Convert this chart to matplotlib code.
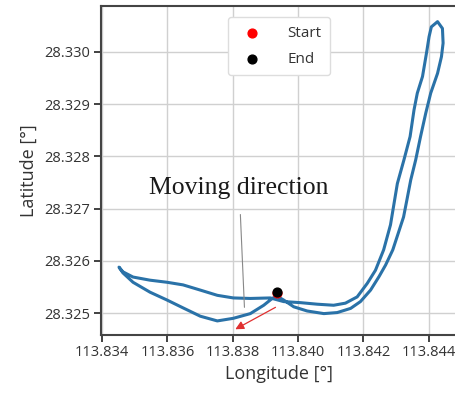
import matplotlib
matplotlib.use("Agg")
import matplotlib.pyplot as plt

lon = [113.83937, 113.83921, 113.83895, 113.83854, 113.83802, 113.83753, 113.83701,
       113.83648, 113.83599, 113.83547, 113.83495, 113.83464, 113.83452,
       113.83464, 113.83495, 113.83547, 113.83599, 113.83648, 113.83701, 113.83753,
       113.83802, 113.83854, 113.83915, 113.83956, 113.84007, 113.84059, 113.84109,
       113.84145, 113.84181, 113.84212, 113.84237, 113.84262, 113.84283, 113.84304,
       113.84324, 113.84343, 113.84355, 113.84365, 113.84381, 113.84394, 113.84401,
       113.84408, 113.84427, 113.84442, 113.84444, 113.84439, 113.84427, 113.84406,
       113.84391, 113.84375, 113.84360, 113.84345, 113.84333, 113.84323, 113.84290,
       113.84268, 113.84248, 113.84222, 113.84191, 113.84161, 113.84120, 113.84079,
       113.84028, 113.83987, 113.83956, 113.83937]
lat = [28.32533, 28.32528, 28.32515, 28.32499, 28.32490, 28.32485, 28.32494,
       28.32510, 28.32525, 28.32540, 28.32559, 28.32577, 28.32588,
       28.32579, 28.32569, 28.32563, 28.32559, 28.32554, 28.32544, 28.32534,
       28.32529, 28.32528, 28.32529, 28.32522, 28.32520, 28.32517, 28.32515,
       28.32519, 28.32531, 28.32557, 28.32582, 28.32621, 28.32669, 28.32748,
       28.32793, 28.32838, 28.32889, 28.32921, 28.32953, 28.33001, 28.33029,
       28.33048, 28.33058, 28.33045, 28.33017, 28.32991, 28.32959, 28.32921,
       28.32883, 28.32838, 28.32793, 28.32755, 28.32716, 28.32684, 28.32621,
       28.32592, 28.32570, 28.32544, 28.32522, 28.32509, 28.32501, 28.32499,
       28.32504, 28.32512, 28.32525, 28.32532]
start_pt = (113.83937, 28.32538)
end_pt = (113.83937, 28.32540)
xticks = [113.834, 113.836, 113.838, 113.840, 113.842, 113.844]
yticks = [28.325, 28.326, 28.327, 28.328, 28.329, 28.330]

plt.rcParams['font.family'] = ['Open Sans', 'DejaVu Sans']
fig = plt.figure(figsize=(4.55, 3.94), dpi=100)
ax = fig.add_axes([0.222, 0.1497, 0.782, 0.8351])

ax.plot(lon, lat, color='#2a72a8', lw=2.2, zorder=3, solid_joinstyle='round')
ax.scatter([start_pt[0]], [start_pt[1]], color='red', s=40, zorder=4, label='Start')
ax.scatter([end_pt[0]], [end_pt[1]], color='black', s=40, zorder=5, label='End')

ax.set_xlim(113.83397, 113.84486)
ax.set_ylim(28.32458, 28.33088)
ax.set_xticks(xticks)
ax.set_xticklabels([f"{v:.3f}" for v in xticks])
ax.set_yticks(yticks)
ax.set_yticklabels([f"{v:.3f}" for v in yticks])
ax.grid(True, color='#d0d0d0', lw=1.0, zorder=0)
ax.tick_params(direction='out', length=5, width=1.3, labelsize=10.5, colors='#333333',
               labelcolor='#333333', pad=2.5)
for s in ax.spines.values():
    s.set_color('#444444')
    s.set_linewidth(1.5)

ax.set_xlabel('Longitude [°]', fontsize=13, color='#333333', labelpad=3)
ax.set_ylabel('Latitude [°]', fontsize=13, color='#333333', labelpad=5)

ax.annotate('Moving direction', xy=(113.83836, 28.32511), xytext=(113.83820, 28.32739),
            ha='center', va='center', fontsize=18.5, family='Liberation Serif', color='#1a1a1a',
            arrowprops=dict(arrowstyle='-', color='#888888', lw=0.8, shrinkA=9, shrinkB=0),
            zorder=6)
ax.annotate('', xy=(113.83808, 28.32469), xytext=(113.83931, 28.32511),
            arrowprops=dict(arrowstyle='-|>,head_length=0.5,head_width=0.25', color='#e03030',
                            lw=0.9, shrinkA=0, shrinkB=0), zorder=6)

leg = ax.legend(loc='upper center', bbox_to_anchor=(0.5, 0.98), fontsize=11,
                labelspacing=0.75, handletextpad=1.3, borderpad=0.55, framealpha=1,
                edgecolor='#dddddd', scatterpoints=1, borderaxespad=0.3)
for t in leg.get_texts():
    t.set_color('#333333')

fig.savefig('out.png', dpi=100)
